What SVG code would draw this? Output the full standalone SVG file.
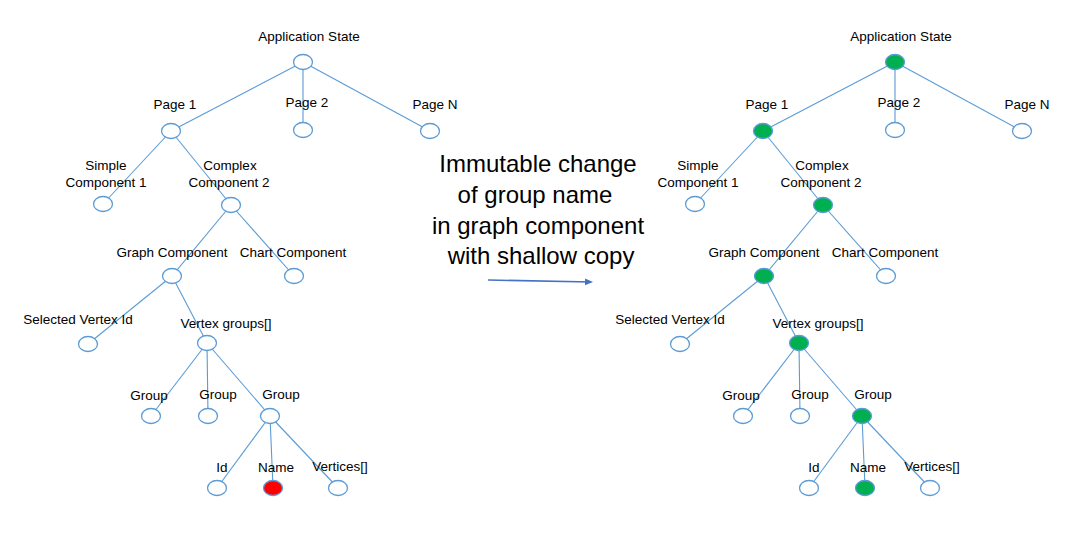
<svg xmlns="http://www.w3.org/2000/svg" width="1092" height="558" viewBox="0 0 1092 558">
<style>
.n{stroke:#5B9BD5;stroke-width:1.3;fill:#FFFFFF}
.g{fill:#00B050}
.r{fill:#FF0000}
.e{stroke:#5B9BD5;stroke-width:1.1;fill:none}
.t{font-family:"Liberation Sans",Arial,sans-serif;font-size:13.5px;fill:#000;text-anchor:middle}
.big{font-family:"Liberation Sans",Arial,sans-serif;font-size:24px;fill:#000;text-anchor:middle}
</style>
<defs>
<marker id="ah" markerWidth="8" markerHeight="8" refX="6" refY="4" orient="auto" markerUnits="userSpaceOnUse">
<path d="M0,0.5 L8,4 L0,7.5 Z" fill="#4472C4"/>
</marker>
</defs>
<rect width="1092" height="558" fill="#FFFFFF"/>
<g id="connectors">
<line class="e" x1="303" y1="62" x2="171" y2="131"/>
<line class="e" x1="303" y1="62" x2="303" y2="130"/>
<line class="e" x1="303" y1="62" x2="430" y2="131"/>
<line class="e" x1="171" y1="131" x2="103" y2="204"/>
<line class="e" x1="171" y1="131" x2="231" y2="205"/>
<line class="e" x1="231" y1="205" x2="172" y2="276"/>
<line class="e" x1="231" y1="205" x2="294" y2="276"/>
<line class="e" x1="172" y1="276" x2="88" y2="344"/>
<line class="e" x1="172" y1="276" x2="207" y2="343"/>
<line class="e" x1="207" y1="343" x2="151" y2="416"/>
<line class="e" x1="207" y1="343" x2="208" y2="416"/>
<line class="e" x1="207" y1="343" x2="270" y2="416"/>
<line class="e" x1="270" y1="416" x2="217" y2="488"/>
<line class="e" x1="270" y1="416" x2="273" y2="488"/>
<line class="e" x1="270" y1="416" x2="338" y2="488"/>
<line class="e" x1="895" y1="62" x2="763" y2="131"/>
<line class="e" x1="895" y1="62" x2="895" y2="130"/>
<line class="e" x1="895" y1="62" x2="1022" y2="131"/>
<line class="e" x1="763" y1="131" x2="695" y2="204"/>
<line class="e" x1="763" y1="131" x2="823" y2="205"/>
<line class="e" x1="823" y1="205" x2="764" y2="276"/>
<line class="e" x1="823" y1="205" x2="886" y2="276"/>
<line class="e" x1="764" y1="276" x2="680" y2="344"/>
<line class="e" x1="764" y1="276" x2="799" y2="343"/>
<line class="e" x1="799" y1="343" x2="743" y2="416"/>
<line class="e" x1="799" y1="343" x2="800" y2="416"/>
<line class="e" x1="799" y1="343" x2="862" y2="416"/>
<line class="e" x1="862" y1="416" x2="809" y2="488"/>
<line class="e" x1="862" y1="416" x2="865" y2="488"/>
<line class="e" x1="862" y1="416" x2="930" y2="488"/>
<line x1="488" y1="280" x2="591" y2="282" stroke="#4472C4" stroke-width="1.6" marker-end="url(#ah)"/>
</g>
<g id="left-tree">
<g id="L-app"><ellipse class="n" cx="303" cy="62" rx="9.5" ry="7.5"/><text class="t" x="309" y="41">Application State</text></g>
<g id="L-page1"><ellipse class="n" cx="171" cy="131" rx="9.5" ry="7.5"/><text class="t" x="175" y="109">Page 1</text></g>
<g id="L-page2"><ellipse class="n" cx="303" cy="130" rx="9.5" ry="7.5"/><text class="t" x="307" y="107">Page 2</text></g>
<g id="L-pageN"><ellipse class="n" cx="430" cy="131" rx="9.5" ry="7.5"/><text class="t" x="435" y="109">Page N</text></g>
<g id="L-simple"><ellipse class="n" cx="103" cy="204" rx="9.5" ry="7.5"/><text class="t" x="106" y="170">Simple</text><text class="t" x="106" y="187">Component 1</text></g>
<g id="L-complex"><ellipse class="n" cx="231" cy="205" rx="9.5" ry="7.5"/><text class="t" x="230" y="170">Complex</text><text class="t" x="229" y="187">Component 2</text></g>
<g id="L-graph"><ellipse class="n" cx="172" cy="276" rx="9.5" ry="7.5"/><text class="t" x="172" y="257">Graph Component</text></g>
<g id="L-chart"><ellipse class="n" cx="294" cy="276" rx="9.5" ry="7.5"/><text class="t" x="293" y="257">Chart Component</text></g>
<g id="L-selvtx"><ellipse class="n" cx="88" cy="344" rx="9.5" ry="7.5"/><text class="t" x="78" y="324">Selected Vertex Id</text></g>
<g id="L-vgroups"><ellipse class="n" cx="207" cy="343" rx="9.5" ry="7.5"/><text class="t" x="226" y="328">Vertex groups[]</text></g>
<g id="L-group1"><ellipse class="n" cx="151" cy="416" rx="9.5" ry="7.5"/><text class="t" x="149" y="400">Group</text></g>
<g id="L-group2"><ellipse class="n" cx="208" cy="416" rx="9.5" ry="7.5"/><text class="t" x="218" y="399">Group</text></g>
<g id="L-group3"><ellipse class="n" cx="270" cy="416" rx="9.5" ry="7.5"/><text class="t" x="281" y="399">Group</text></g>
<g id="L-id"><ellipse class="n" cx="217" cy="488" rx="9.5" ry="7.5"/><text class="t" x="222" y="472">Id</text></g>
<g id="L-name"><ellipse class="n r" cx="273" cy="488" rx="9.5" ry="7.5"/><text class="t" x="276" y="472">Name</text></g>
<g id="L-vertices"><ellipse class="n" cx="338" cy="488" rx="9.5" ry="7.5"/><text class="t" x="340" y="471">Vertices[]</text></g>
</g>
<g id="caption">
<text class="big" x="538" y="172">Immutable change</text>
<text class="big" x="535" y="203">of group name</text>
<text class="big" x="538" y="234">in graph component</text>
<text class="big" x="541" y="264">with shallow copy</text>
</g>
<g id="right-tree">
<g id="R-app"><ellipse class="n g" cx="895" cy="62" rx="9.5" ry="7.5"/><text class="t" x="901" y="41">Application State</text></g>
<g id="R-page1"><ellipse class="n g" cx="763" cy="131" rx="9.5" ry="7.5"/><text class="t" x="767" y="109">Page 1</text></g>
<g id="R-page2"><ellipse class="n" cx="895" cy="130" rx="9.5" ry="7.5"/><text class="t" x="899" y="107">Page 2</text></g>
<g id="R-pageN"><ellipse class="n" cx="1022" cy="131" rx="9.5" ry="7.5"/><text class="t" x="1027" y="109">Page N</text></g>
<g id="R-simple"><ellipse class="n" cx="695" cy="204" rx="9.5" ry="7.5"/><text class="t" x="698" y="170">Simple</text><text class="t" x="698" y="187">Component 1</text></g>
<g id="R-complex"><ellipse class="n g" cx="823" cy="205" rx="9.5" ry="7.5"/><text class="t" x="822" y="170">Complex</text><text class="t" x="821" y="187">Component 2</text></g>
<g id="R-graph"><ellipse class="n g" cx="764" cy="276" rx="9.5" ry="7.5"/><text class="t" x="764" y="257">Graph Component</text></g>
<g id="R-chart"><ellipse class="n" cx="886" cy="276" rx="9.5" ry="7.5"/><text class="t" x="885" y="257">Chart Component</text></g>
<g id="R-selvtx"><ellipse class="n" cx="680" cy="344" rx="9.5" ry="7.5"/><text class="t" x="670" y="324">Selected Vertex Id</text></g>
<g id="R-vgroups"><ellipse class="n g" cx="799" cy="343" rx="9.5" ry="7.5"/><text class="t" x="818" y="328">Vertex groups[]</text></g>
<g id="R-group1"><ellipse class="n" cx="743" cy="416" rx="9.5" ry="7.5"/><text class="t" x="741" y="400">Group</text></g>
<g id="R-group2"><ellipse class="n" cx="800" cy="416" rx="9.5" ry="7.5"/><text class="t" x="810" y="399">Group</text></g>
<g id="R-group3"><ellipse class="n g" cx="862" cy="416" rx="9.5" ry="7.5"/><text class="t" x="873" y="399">Group</text></g>
<g id="R-id"><ellipse class="n" cx="809" cy="488" rx="9.5" ry="7.5"/><text class="t" x="814" y="472">Id</text></g>
<g id="R-name"><ellipse class="n g" cx="865" cy="488" rx="9.5" ry="7.5"/><text class="t" x="868" y="472">Name</text></g>
<g id="R-vertices"><ellipse class="n" cx="930" cy="488" rx="9.5" ry="7.5"/><text class="t" x="932" y="471">Vertices[]</text></g>
</g>
</svg>
